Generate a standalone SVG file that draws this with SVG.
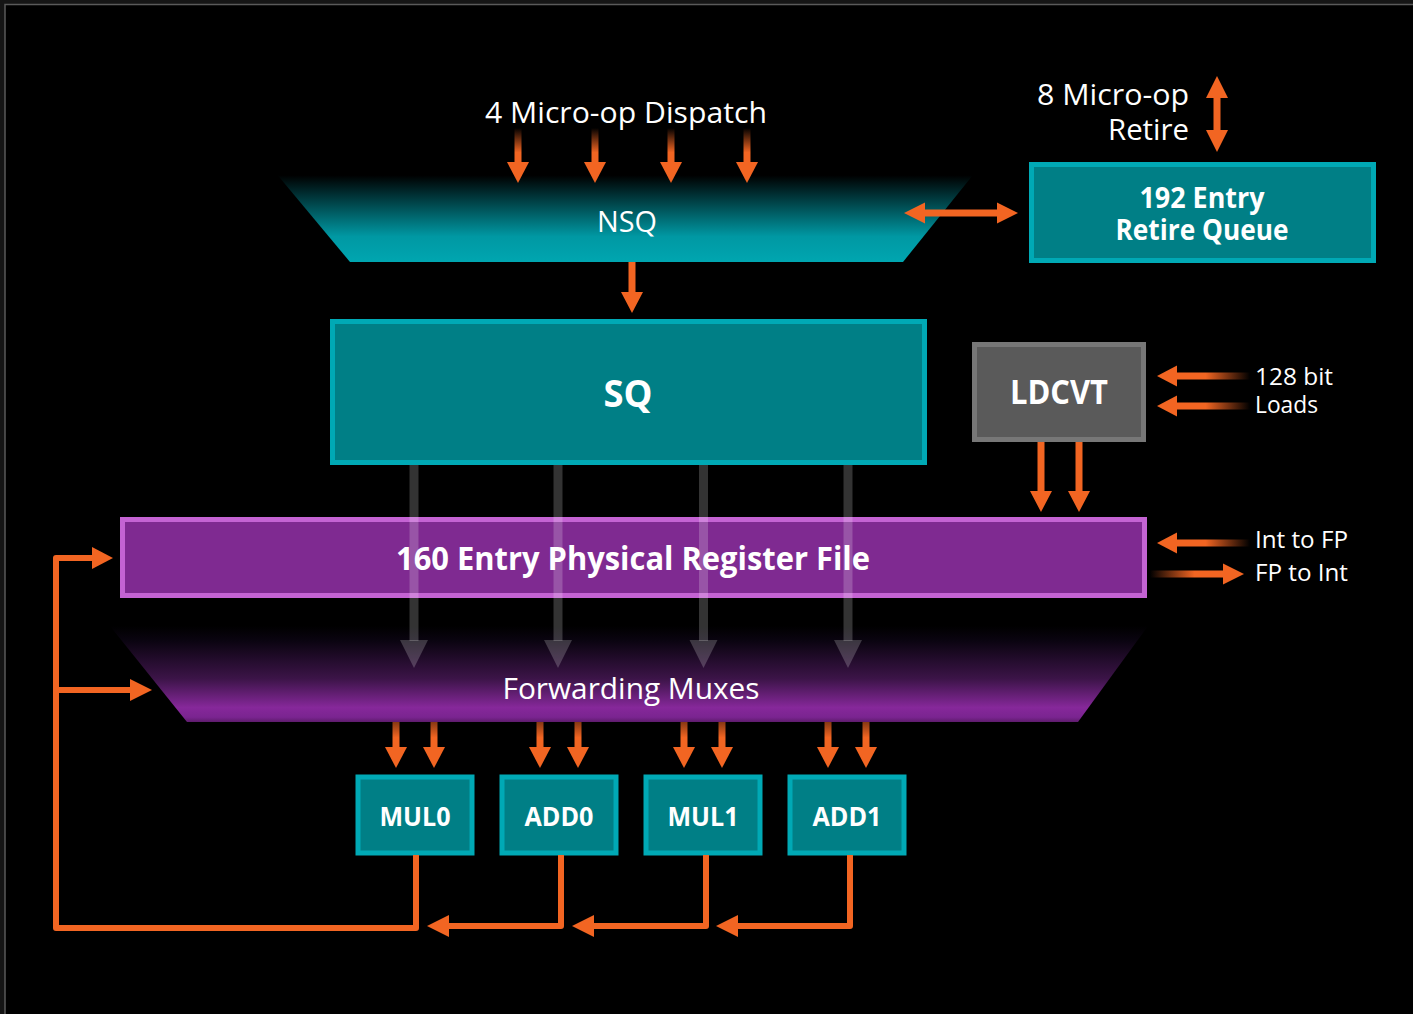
<svg xmlns="http://www.w3.org/2000/svg" width="1413" height="1014" viewBox="0 0 1413 1014">
  <defs>
    <style>
      .lbl { font-family: "Open Sans", "Noto Sans", sans-serif; fill: #ffffff; }
      .bold { font-family: "Open Sans", "Noto Sans", sans-serif; font-weight: 700; fill: #ffffff; }
      .teal-box { fill: #007f86; stroke: #00a9b5; stroke-width: 5; }
      .gray-box { fill: #5a5a5a; stroke: #777777; stroke-width: 5; }
      .prf-box { fill: #7f2a91; stroke: #c463d3; stroke-width: 5; }
      .org { fill: #f26522; }
      .wire { fill: none; stroke: #f26522; stroke-width: 6; stroke-linejoin: round; }
      .ghost { fill: #ffffff; fill-opacity: 0.2; }
    </style>
    <linearGradient id="nsqFill" x1="0" y1="0" x2="0" y2="1">
      <stop offset="0" stop-color="#000000"/>
      <stop offset="0.15" stop-color="#000000"/>
      <stop offset="0.75" stop-color="#0098a3"/>
      <stop offset="1" stop-color="#00a6b0"/>
    </linearGradient>
    <linearGradient id="muxFill" x1="0" y1="0" x2="0" y2="1">
      <stop offset="0" stop-color="#000000"/>
      <stop offset="0.15" stop-color="#0a0410"/>
      <stop offset="0.55" stop-color="#3c1448"/>
      <stop offset="0.85" stop-color="#86289a"/>
      <stop offset="0.95" stop-color="#7a2490"/>
      <stop offset="1" stop-color="#5e1c6c"/>
    </linearGradient>
    <linearGradient id="fadeDown" x1="0" y1="0" x2="0" y2="1">
      <stop offset="0" stop-color="#f26522" stop-opacity="0"/>
      <stop offset="0.7" stop-color="#f26522" stop-opacity="1"/>
    </linearGradient>
    <linearGradient id="fadeDownSoft" x1="0" y1="0" x2="0" y2="1">
      <stop offset="0" stop-color="#f26522" stop-opacity="0.55"/>
      <stop offset="0.6" stop-color="#f26522" stop-opacity="1"/>
    </linearGradient>
    <linearGradient id="fadeRight" x1="0" y1="0" x2="1" y2="0">
      <stop offset="0.4" stop-color="#f26522" stop-opacity="1"/>
      <stop offset="1" stop-color="#f26522" stop-opacity="0"/>
    </linearGradient>
    <linearGradient id="fadeLeft" x1="0" y1="0" x2="1" y2="0">
      <stop offset="0" stop-color="#f26522" stop-opacity="0"/>
      <stop offset="0.6" stop-color="#f26522" stop-opacity="1"/>
    </linearGradient>
    <linearGradient id="ghostFade" x1="0" y1="0" x2="0" y2="1">
      <stop offset="0" stop-color="#ffffff" stop-opacity="0.2"/>
      <stop offset="1" stop-color="#ffffff" stop-opacity="0.2"/>
    </linearGradient>
  </defs>

  <!-- page background and frame -->
  <rect x="0" y="0" width="1413" height="1014" fill="#151515"/>
  <rect x="5" y="4.5" width="1420" height="1020" fill="#000000" stroke="#5a5a5a" stroke-width="1.5"/>

  <!-- NSQ funnel -->
  <g id="nsq">
    <polygon points="265,160 985,160 903,262 350,262" fill="url(#nsqFill)"/>
    <text class="lbl" x="627" y="232" font-size="29" text-anchor="middle" textLength="60" lengthAdjust="spacingAndGlyphs">NSQ</text>
  </g>

  <!-- Retire queue -->
  <g id="retire-queue">
    <rect class="teal-box" x="1031.5" y="164.5" width="342" height="96"/>
    <text class="bold" x="1202" y="208" font-size="28" text-anchor="middle" textLength="125" lengthAdjust="spacingAndGlyphs">192 Entry</text>
    <text class="bold" x="1202" y="240" font-size="28" text-anchor="middle" textLength="173" lengthAdjust="spacingAndGlyphs">Retire Queue</text>
  </g>

  <!-- Scheduler queue -->
  <g id="sq">
    <rect class="teal-box" x="332.5" y="321.5" width="592" height="141"/>
    <text class="bold" x="628" y="407" font-size="37" text-anchor="middle" textLength="49" lengthAdjust="spacingAndGlyphs">SQ</text>
  </g>

  <!-- Load convert -->
  <g id="ldcvt">
    <rect class="gray-box" x="974.5" y="344.5" width="169" height="95"/>
    <text class="bold" x="1059" y="404" font-size="34" text-anchor="middle" textLength="98" lengthAdjust="spacingAndGlyphs">LDCVT</text>
  </g>

  <!-- Physical register file -->
  <g id="prf">
    <rect class="prf-box" x="122.5" y="519.5" width="1022" height="76"/>
    <text class="bold" x="633" y="570" font-size="32" text-anchor="middle" textLength="474" lengthAdjust="spacingAndGlyphs">160 Entry Physical Register File</text>
  </g>

  <!-- Forwarding muxes -->
  <g id="fwd-muxes">
    <polygon points="110,626 1148,626 1078,722 187,722" fill="url(#muxFill)"/>
    <text class="lbl" x="631" y="699" font-size="29" text-anchor="middle" textLength="257" lengthAdjust="spacingAndGlyphs">Forwarding Muxes</text>
  </g>

  <!-- Execution units -->
  <g id="mul0">
    <rect class="teal-box" x="358" y="777" width="114" height="76"/>
    <text class="bold" x="415" y="826" font-size="26" text-anchor="middle" textLength="71" lengthAdjust="spacingAndGlyphs">MUL0</text>
  </g>
  <g id="add0">
    <rect class="teal-box" x="502" y="777" width="114" height="76"/>
    <text class="bold" x="559" y="826" font-size="26" text-anchor="middle" textLength="69" lengthAdjust="spacingAndGlyphs">ADD0</text>
  </g>
  <g id="mul1">
    <rect class="teal-box" x="646" y="777" width="114" height="76"/>
    <text class="bold" x="703" y="826" font-size="26" text-anchor="middle" textLength="71" lengthAdjust="spacingAndGlyphs">MUL1</text>
  </g>
  <g id="add1">
    <rect class="teal-box" x="790" y="777" width="114" height="76"/>
    <text class="bold" x="847" y="826" font-size="26" text-anchor="middle" textLength="69" lengthAdjust="spacingAndGlyphs">ADD1</text>
  </g>

  <!-- Free-standing labels -->
  <g id="labels">
    <text class="lbl" x="626" y="123" font-size="29" text-anchor="middle" textLength="282" lengthAdjust="spacingAndGlyphs">4 Micro-op Dispatch</text>
    <text class="lbl" x="1189" y="105" font-size="29" text-anchor="end" textLength="152" lengthAdjust="spacingAndGlyphs">8 Micro-op</text>
    <text class="lbl" x="1189" y="140" font-size="29" text-anchor="end" textLength="81" lengthAdjust="spacingAndGlyphs">Retire</text>
    <text class="lbl" x="1255" y="385" font-size="24" textLength="78" lengthAdjust="spacingAndGlyphs">128 bit</text>
    <text class="lbl" x="1255" y="413" font-size="24" textLength="63" lengthAdjust="spacingAndGlyphs">Loads</text>
    <text class="lbl" x="1255" y="548" font-size="24" textLength="93" lengthAdjust="spacingAndGlyphs">Int to FP</text>
    <text class="lbl" x="1255" y="581" font-size="24" textLength="93" lengthAdjust="spacingAndGlyphs">FP to Int</text>
  </g>

  <!-- Connectors -->
  <g id="connectors">
    <!-- dispatch into NSQ -->
    <rect x="514.5" y="128" width="7" height="35" fill="url(#fadeDown)"/>
    <polygon class="org" points="507,162 529,162 518,183"/>
    <rect x="591.5" y="128" width="7" height="35" fill="url(#fadeDown)"/>
    <polygon class="org" points="584,162 606,162 595,183"/>
    <rect x="667.5" y="128" width="7" height="35" fill="url(#fadeDown)"/>
    <polygon class="org" points="660,162 682,162 671,183"/>
    <rect x="743.5" y="128" width="7" height="35" fill="url(#fadeDown)"/>
    <polygon class="org" points="736,162 758,162 747,183"/>

    <!-- NSQ to SQ -->
    <polygon class="org" points="628.5,262 635.5,262 635.5,292 643,292 632,313 621,292 628.5,292"/>

    <!-- NSQ <-> retire queue -->
    <polygon class="org" points="904,213 925,202.5 925,209.5 997,209.5 997,202.5 1018,213 997,223.5 997,216.5 925,216.5 925,223.5"/>

    <!-- retire in/out -->
    <polygon class="org" points="1217,76 1228,98 1220.5,98 1220.5,130 1228,130 1217,152 1206,130 1213.5,130 1213.5,98 1206,98"/>

    <!-- 128 bit loads into LDCVT -->
    <rect x="1176" y="372.5" width="74" height="7" fill="url(#fadeRight)"/>
    <polygon class="org" points="1157,376 1177,365.5 1177,386.5"/>
    <rect x="1176" y="402.5" width="74" height="7" fill="url(#fadeRight)"/>
    <polygon class="org" points="1157,406 1177,395.5 1177,416.5"/>

    <!-- LDCVT to PRF -->
    <polygon class="org" points="1037.5,442 1044.5,442 1044.5,491 1052,491 1041,512 1030,491 1037.5,491"/>
    <polygon class="org" points="1075.5,442 1082.5,442 1082.5,491 1090,491 1079,512 1068,491 1075.5,491"/>

    <!-- Int to FP / FP to Int -->
    <rect x="1176" y="539.5" width="74" height="7" fill="url(#fadeRight)"/>
    <polygon class="org" points="1157,543 1177,532.5 1177,553.5"/>
    <rect x="1150" y="570.5" width="74" height="7" fill="url(#fadeLeft)"/>
    <polygon class="org" points="1244,574 1223,563.5 1223,584.5"/>

    <!-- SQ issue paths through PRF to muxes -->
    <rect class="ghost" x="409.5" y="465" width="9" height="176"/>
    <polygon class="ghost" points="400,640 428,640 414,668"/>
    <rect class="ghost" x="553.5" y="465" width="9" height="176"/>
    <polygon class="ghost" points="544,640 572,640 558,668"/>
    <rect class="ghost" x="699" y="465" width="9" height="176"/>
    <polygon class="ghost" points="689.5,640 717.5,640 703.5,668"/>
    <rect class="ghost" x="843.5" y="465" width="9" height="176"/>
    <polygon class="ghost" points="834,640 862,640 848,668"/>

    <!-- muxes to execution units -->
    <rect x="392.5" y="722" width="7" height="26" fill="url(#fadeDownSoft)"/>
    <polygon class="org" points="385,747 407,747 396,768"/>
    <rect x="430.5" y="722" width="7" height="26" fill="url(#fadeDownSoft)"/>
    <polygon class="org" points="423,747 445,747 434,768"/>
    <rect x="536.5" y="722" width="7" height="26" fill="url(#fadeDownSoft)"/>
    <polygon class="org" points="529,747 551,747 540,768"/>
    <rect x="574.5" y="722" width="7" height="26" fill="url(#fadeDownSoft)"/>
    <polygon class="org" points="567,747 589,747 578,768"/>
    <rect x="680.5" y="722" width="7" height="26" fill="url(#fadeDownSoft)"/>
    <polygon class="org" points="673,747 695,747 684,768"/>
    <rect x="718.5" y="722" width="7" height="26" fill="url(#fadeDownSoft)"/>
    <polygon class="org" points="711,747 733,747 722,768"/>
    <rect x="824.5" y="722" width="7" height="26" fill="url(#fadeDownSoft)"/>
    <polygon class="org" points="817,747 839,747 828,768"/>
    <rect x="862.5" y="722" width="7" height="26" fill="url(#fadeDownSoft)"/>
    <polygon class="org" points="855,747 877,747 866,768"/>

    <!-- result bypass / writeback -->
    <polyline class="wire" points="416,855 416,928 56,928 56,558 94,558"/>
    <polygon class="org" points="113,558 92,547 92,569"/>
    <polyline class="wire" points="56,690 132,690"/>
    <polygon class="org" points="152,690 130,679 130,701"/>

    <polyline class="wire" points="561,855 561,926 447,926"/>
    <polygon class="org" points="427,926 449,915 449,937"/>
    <polyline class="wire" points="706,855 706,926 592,926"/>
    <polygon class="org" points="572,926 594,915 594,937"/>
    <polyline class="wire" points="850,855 850,926 736,926"/>
    <polygon class="org" points="716,926 738,915 738,937"/>
  </g>
</svg>
